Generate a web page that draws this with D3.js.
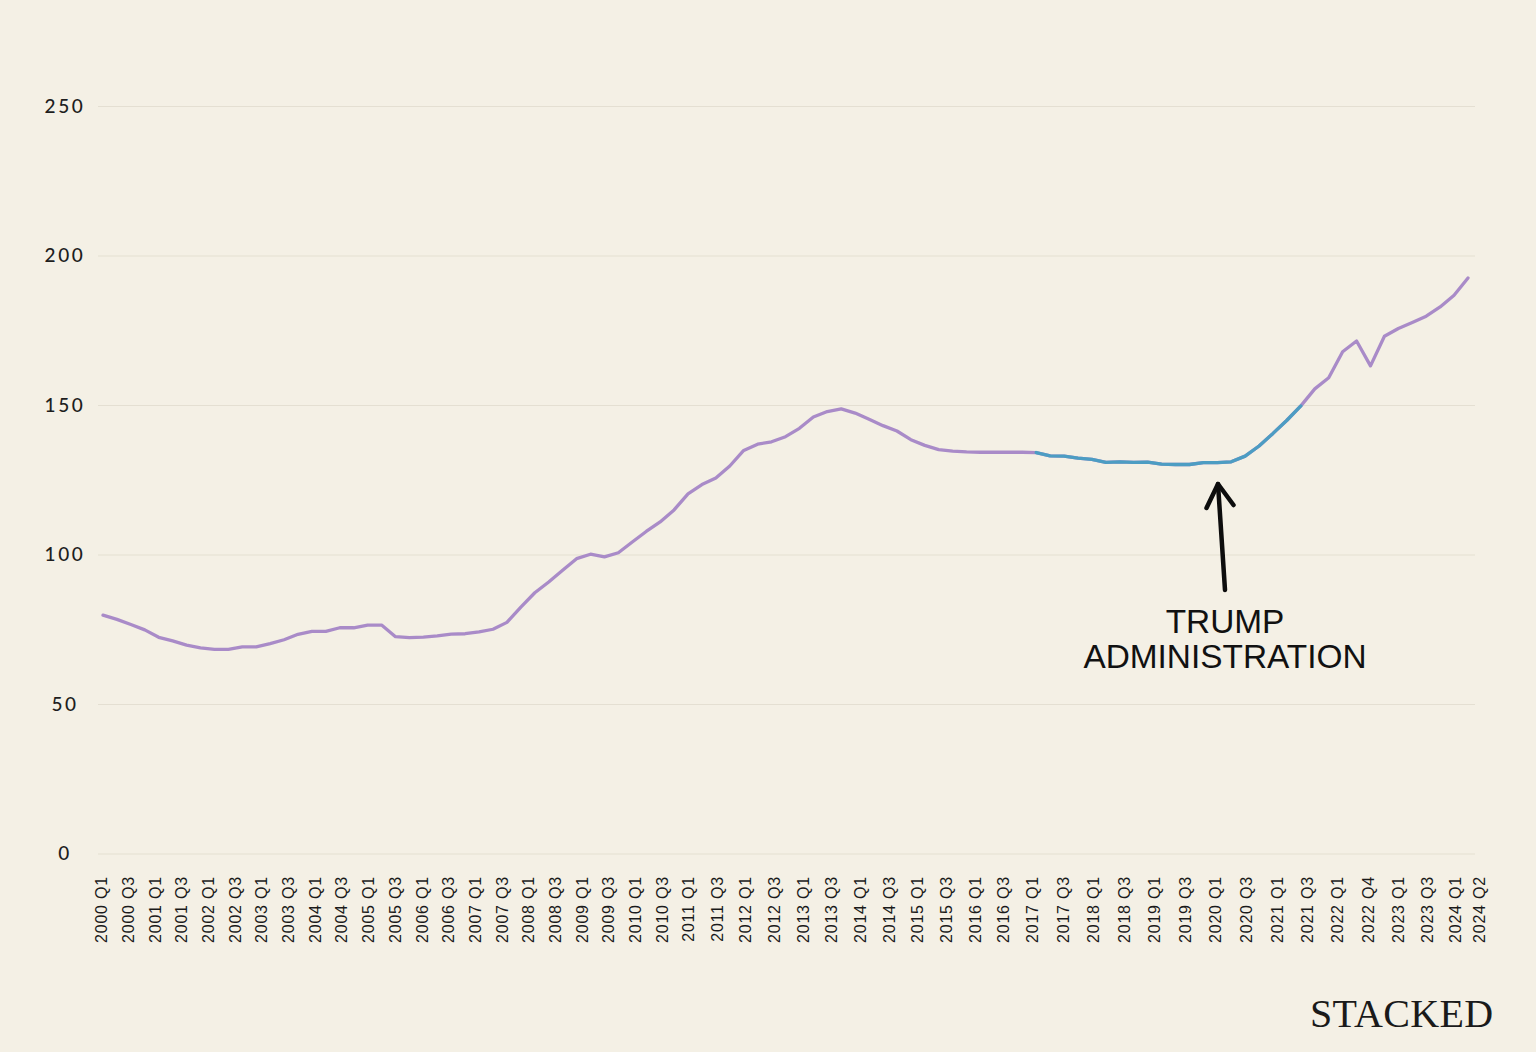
<!DOCTYPE html>
<html>
<head>
<meta charset="utf-8">
<script src="https://cdn.jsdelivr.net/npm/d3@7"></script>
<style>
  html, body { margin: 0; padding: 0; background: #f4f0e5; }
  svg { display: block; }
</style>
</head>
<body>
<svg id="chart" width="1536" height="1052"></svg>
<script>
// ---- Data ----
// Index values, one per period (99 periods, 2000 Q1 .. 2024 Q2)
const values = [
  79.7, 78.3, 76.6, 74.8, 72.3, 71.1, 69.7, 68.8, 68.3, 68.3,
  69.1, 69.1, 70.2, 71.5, 73.3, 74.3, 74.3, 75.5, 75.5, 76.4,
  76.4, 72.5, 72.2, 72.4, 72.8, 73.4, 73.5, 74.1, 75.0, 77.3,
  82.4, 87.2, 90.8, 94.7, 98.6, 100.1, 99.2, 100.6, 104.2, 107.7,
  110.9, 114.9, 120.3, 123.4, 125.6, 129.6, 134.8, 136.9, 137.7, 139.4,
  142.2, 146.0, 147.8, 148.7, 147.3, 145.2, 143.1, 141.3, 138.4, 136.5,
  135.1, 134.6, 134.3, 134.2, 134.2, 134.2, 134.2, 134.1, 133.0, 132.9,
  132.2, 131.8, 130.8, 131.0, 130.8, 130.9, 130.2, 130.1, 130.1, 130.7,
  130.7, 131.0, 132.9, 136.3, 140.5, 144.9, 149.7, 155.4, 159.1, 167.8,
  171.4, 163.1, 173.0, 175.6, 177.6, 179.7, 182.8, 186.7, 192.5
];
// Highlighted (Trump administration) span, as period indices
const highlightStart = 67;
const highlightEnd = 86;

// X tick labels as shown
const tickLabels = [
  "2000 Q1","2000 Q3","2001 Q1","2001 Q3","2002 Q1","2002 Q3","2003 Q1","2003 Q3",
  "2004 Q1","2004 Q3","2005 Q1","2005 Q3","2006 Q1","2006 Q3","2007 Q1","2007 Q3",
  "2008 Q1","2008 Q3","2009 Q1","2009 Q3","2010 Q1","2010 Q3","2011 Q1","2011 Q3",
  "2012 Q1","2012 Q3","2013 Q1","2013 Q3","2014 Q1","2014 Q3","2015 Q1","2015 Q3",
  "2016 Q1","2016 Q3","2017 Q1","2017 Q3","2018 Q1","2018 Q3","2019 Q1","2019 Q3",
  "2020 Q1","2020 Q3","2021 Q1","2021 Q3","2022 Q1","2022 Q4","2023 Q1","2023 Q3",
  "2024 Q1","2024 Q2"
];
const yTicks = [0, 50, 100, 150, 200, 250];

const annotationLines = ["TRUMP", "ADMINISTRATION"];
const brand = "STACKED";

// ---- Drawing ----
const svg = d3.select("#chart");
svg.append("rect").attr("width", 1536).attr("height", 1052).attr("fill", "#f4f0e5");

const idx = values.map((d, i) => i);
const x = d3.scalePoint().domain(idx).range([103, 1468]);
// label axis: the labels in the original are not spaced exactly like the data
const labPos = d3.scaleLinear()
  .domain([0, 17, 22, 34, 43, 46, 48, 49])
  .range([101, 555, 688, 1032, 1307, 1398, 1455, 1479]);
const xLab = d3.scaleOrdinal()
  .domain(tickLabels)
  .range(tickLabels.map((d, i) => labPos(i)));
const y = d3.scaleLinear().domain([0, 250]).range([853.5, 106]);

const gridLeft = 98, gridRight = 1475;

// Y axis with gridlines
const yAxis = svg.append("g")
  .attr("transform", `translate(${gridLeft},0)`)
  .call(d3.axisLeft(y).tickValues(yTicks).tickSize(-(gridRight - gridLeft)).tickFormat(d3.format("d")));
yAxis.select(".domain").remove();
yAxis.selectAll(".tick line").attr("stroke", "#e4dfd2").attr("stroke-width", 1.2);
yAxis.selectAll(".tick text")
  .attr("x", -33)
  .attr("text-anchor", "middle")
  .attr("fill", "#1e1e1e")
  .style("font-family", "Lato, 'Noto Sans', sans-serif")
  .style("font-size", "19px")
  .style("font-weight", "500")
  .style("letter-spacing", "2.6px");

// X axis labels
const xAxis = svg.append("g")
  .attr("transform", "translate(0,870)")
  .call(d3.axisBottom(xLab).tickValues(tickLabels).tickSize(0));
xAxis.select(".domain").remove();
xAxis.selectAll(".tick line").remove();
xAxis.selectAll(".tick text")
  .attr("transform", "rotate(-90)")
  .attr("x", -6)
  .attr("y", 0)
  .attr("dy", "0.35em")
  .attr("text-anchor", "end")
  .attr("fill", "#1a1a1a")
  .style("font-family", "'Liberation Sans', Arial, sans-serif")
  .style("font-size", "16px")
  .style("letter-spacing", "0.8px");

// Lines
const line = d3.line().x(d => x(d.i)).y(d => y(d.v));
const pts = values.map((v, i) => ({ i, v }));

svg.append("path")
  .datum(pts)
  .attr("d", line)
  .attr("fill", "none")
  .attr("stroke", "#a98bc8")
  .attr("stroke-width", 3.3)
  .attr("stroke-linejoin", "round")
  .attr("stroke-linecap", "round");

svg.append("path")
  .datum(pts.slice(highlightStart, highlightEnd + 1))
  .attr("d", line)
  .attr("fill", "none")
  .attr("stroke", "#4c9dc3")
  .attr("stroke-width", 3.3)
  .attr("stroke-linejoin", "round")
  .attr("stroke-linecap", "round");

// Annotation arrow
const arrow = svg.append("g")
  .attr("fill", "none")
  .attr("stroke", "#0d0d0d")
  .attr("stroke-width", 4.5)
  .attr("stroke-linecap", "round")
  .attr("stroke-linejoin", "round");
arrow.append("path").attr("d", "M1225,590 L1218,484");
arrow.append("path").attr("d", "M1206.5,508 L1218,484 L1233.5,505");

svg.selectAll("text.annot")
  .data(annotationLines)
  .join("text")
  .attr("class", "annot")
  .attr("x", 1225)
  .attr("y", (d, i) => 633 + i * 35)
  .attr("text-anchor", "middle")
  .attr("fill", "#111")
  .style("font-family", "'Liberation Sans', Arial, sans-serif")
  .style("font-size", "33.4px")
  .text(d => d);

// Brand
svg.append("text")
  .attr("x", 1310)
  .attr("y", 1027)
  .attr("fill", "#1a1a1a")
  .style("font-family", "'Liberation Serif', 'DejaVu Serif', serif")
  .style("font-size", "40px")
  .style("letter-spacing", "0.3px")
  .text(brand);
</script>
</body>
</html>
